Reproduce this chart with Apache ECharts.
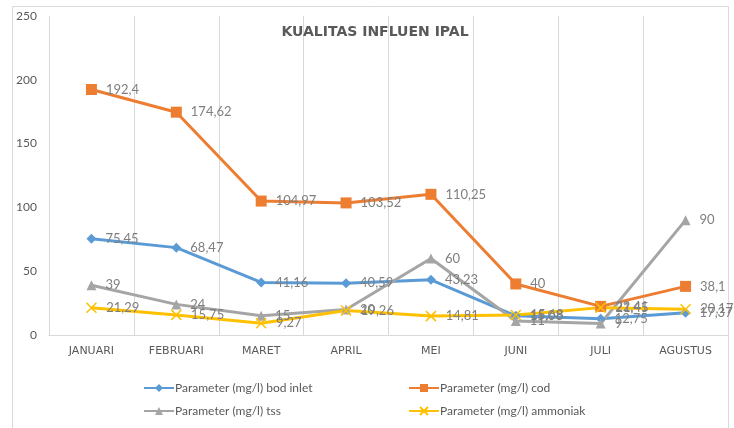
<!DOCTYPE html>
<html>
<head>
<meta charset="utf-8">
<script src="https://cdn.jsdelivr.net/npm/echarts@6/dist/echarts.min.js"></script>
<style>
html,body{margin:0;padding:0;background:#fff;}
#chart{width:734px;height:428px;}
</style>
</head>
<body>
<div id="chart"></div>
<script>
var categories = ['JANUARI','FEBRUARI','MARET','APRIL','MEI','JUNI','JULI','AGUSTUS'];
var bodInlet = [75.45, 68.47, 41.16, 40.59, 43.23, 15.08, 12.75, 17.37];
var cod = [192.4, 174.62, 104.97, 103.52, 110.25, 40, 22.41, 38.1];
var tss = [39, 24, 15, 20, 60, 11, 9, 90];
var ammoniak = [21.29, 15.75, 9.27, 19.26, 14.81, 15.68, 21.45, 20.17];
var seriesNames = ['Parameter (mg/l) bod inlet','Parameter (mg/l) cod','Parameter (mg/l) tss','Parameter (mg/l) ammoniak'];
var yTicks = {min: 0, max: 250, interval: 50};

var FONT = 'Lato';
var chart = echarts.init(document.getElementById('chart'));

function mk(name, data, color, symbol, size, extraItem) {
  var item = {color: color};
  if (extraItem) { for (var k in extraItem) item[k] = extraItem[k]; }
  return {
    name: name, type: 'line', data: data,
    symbol: symbol, symbolSize: size,
    lineStyle: {color: color, width: 3},
    itemStyle: item,
    label: {
      show: true, position: 'right', distance: 9,
      color: '#7f7f7f', fontSize: 13, fontFamily: FONT,
      formatter: function(p){ return String(p.value).replace('.', ','); }
    },
    z: 3
  };
}

chart.setOption({
  animation: false,
  backgroundColor: '#fff',
  graphic: [{
    type: 'rect', shape: {x: 12.5, y: 6.5, width: 716, height: 440},
    style: {fill: 'none', stroke: '#d9d9d9', lineWidth: 1}, silent: true, z: -1
  }],
  title: {
    text: 'KUALITAS INFLUEN IPAL',
    left: 370, top: 20, textAlign: 'center',
    textStyle: {fontSize: 14, fontWeight: 'bold', color: '#595959', fontFamily: 'DejaVu Sans'}
  },
  grid: {left: 49, right: 6, top: 16, bottom: 93},
  legend: [{
    orient: 'vertical', left: 138, top: 377, itemGap: 11,
    itemWidth: 30, itemHeight: 10,
    data: [seriesNames[0], seriesNames[2]],
    textStyle: {color: '#595959', fontSize: 12, fontFamily: FONT, padding: [0,0,0,-4]}
  },{
    orient: 'vertical', left: 403, top: 377, itemGap: 11,
    itemWidth: 30, itemHeight: 10,
    data: [seriesNames[1], seriesNames[3]],
    textStyle: {color: '#595959', fontSize: 12, fontFamily: FONT, padding: [0,0,0,-4]}
  }],
  xAxis: {
    type: 'category', data: categories, boundaryGap: true,
    axisLine: {show: true, lineStyle: {color: '#d9d9d9', width: 1}},
    axisTick: {show: false},
    splitLine: {show: true, lineStyle: {color: '#d9d9d9', width: 1}},
    axisLabel: {color: '#595959', fontSize: 11, fontFamily: 'DejaVu Sans', margin: 11}
  },
  yAxis: {
    type: 'value', min: yTicks.min, max: yTicks.max, interval: yTicks.interval,
    axisLine: {show: false}, axisTick: {show: false},
    splitLine: {show: false},
    axisLabel: {color: '#595959', fontSize: 12, fontFamily: FONT, margin: 12}
  },
  series: [
    mk(seriesNames[0], bodInlet, '#5B9BD5', 'diamond', 10),
    mk(seriesNames[1], cod, '#ED7D31', 'rect', 11),
    mk(seriesNames[2], tss, '#A5A5A5', 'triangle', 10),
    mk(seriesNames[3], ammoniak, '#FFC000', 'path://M0,0 L10,10 M10,0 L0,10', 10,
       {borderColor: '#FFC000', borderWidth: 1.5})
  ]
});
</script>
</body>
</html>
